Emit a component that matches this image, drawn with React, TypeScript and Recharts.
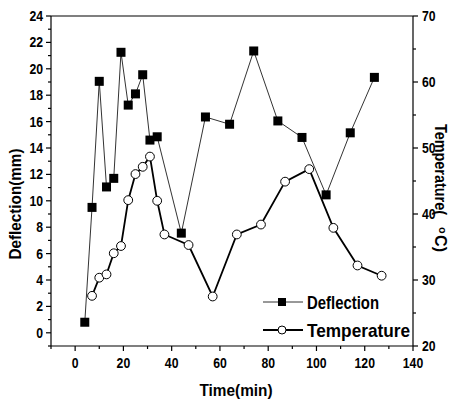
import React from 'react';
import { ComposedChart, Line, XAxis, YAxis, ReferenceLine, Legend } from 'recharts';

const deflectionTime = [4, 7, 10, 13, 16, 19, 22, 25, 28, 31, 34, 44, 54, 64, 74, 84, 94, 104, 114, 124];
const deflection = [0.8, 9.5, 19.05, 11.05, 11.7, 21.25, 17.25, 18.1, 19.55, 14.6, 14.85, 7.55, 16.35, 15.8, 21.35, 16.05, 14.8, 10.45, 15.15, 19.35];
const temperatureTime = [7, 10, 13, 16, 19, 22, 25, 28, 31, 34, 37, 47, 57, 67, 77, 87, 97, 107, 117, 127];
const temperature = [27.6, 30.35, 30.85, 34.05, 35.15, 42.1, 46.05, 47.15, 48.7, 42.0, 36.9, 35.3, 27.5, 36.9, 38.4, 44.9, 46.8, 37.9, 32.2, 30.65];

const xTicks = [-10, 0, 10, 20, 30, 40, 50, 60, 70, 80, 90, 100, 110, 120, 130, 140];
const leftTicks = [-1, 0, 1, 2, 3, 4, 5, 6, 7, 8, 9, 10, 11, 12, 13, 14, 15, 16, 17, 18, 19, 20, 21, 22, 23, 24];
const rightTicks = [20, 25, 30, 35, 40, 45, 50, 55, 60, 65, 70];

const deflectionData = deflectionTime.map((t, i) => ({ t, v: deflection[i] }));
const temperatureData = temperatureTime.map((t, i) => ({ t, v: temperature[i] }));

const FONT = '"Liberation Sans", Arial, sans-serif';
const DIGIT_W = 6.8;

const TickText = (p: any) => {
  const s = String(p.value);
  return (
    <text
      x={p.x}
      y={p.y}
      dy={p.dy}
      textAnchor={p.anchor}
      fontFamily={FONT}
      fontWeight="bold"
      fontSize={14}
      fill="#000"
      textLength={s.length * DIGIT_W}
      lengthAdjust="spacingAndGlyphs"
    >
      {s}
    </text>
  );
};

const XTick = (props: any) => {
  const { x, y, payload } = props;
  const major = payload.value % 20 === 0;
  return (
    <g>
      <line x1={x} x2={x} y1={y} y2={y + (major ? 5 : 3)} stroke="#000" strokeWidth={1.2} />
      {major && <TickText x={x} y={y + 22} anchor="middle" value={payload.value} />}
    </g>
  );
};

const LeftTick = (props: any) => {
  const { x, y, payload } = props;
  const major = payload.value % 2 === 0;
  return (
    <g>
      <line x1={x} x2={x - (major ? 5 : 3)} y1={y} y2={y} stroke="#000" strokeWidth={1.2} />
      {major && <TickText x={x - 8} y={y} dy="0.36em" anchor="end" value={payload.value} />}
    </g>
  );
};

const RightTick = (props: any) => {
  const { x, y, payload } = props;
  const major = payload.value % 10 === 0;
  return (
    <g>
      <line x1={x} x2={x + (major ? 5 : 3)} y1={y} y2={y} stroke="#000" strokeWidth={1.2} />
      {major && <TickText x={x + 9} y={y} dy="0.36em" anchor="start" value={payload.value} />}
    </g>
  );
};

const SquareDot = (props: any) => {
  const { cx, cy, index } = props;
  return <rect key={`sq-${index}`} x={cx - 4.5} y={cy - 4.5} width={9} height={9} fill="#000" />;
};

const CircleDot = (props: any) => {
  const { cx, cy, index } = props;
  return <circle key={`ci-${index}`} cx={cx} cy={cy} r={4.4} fill="#fff" stroke="#000" strokeWidth={1} />;
};

const legendStyles: Record<string, { marker: 'square' | 'circle'; stroke: string; width: number; textW: number }> = {
  Deflection: { marker: 'square', stroke: '#333', width: 1, textW: 72 },
  Temperature: { marker: 'circle', stroke: '#000', width: 2, textW: 103 },
};

const renderLegend = (props: any) => {
  const { payload } = props;
  const items = payload || [];
  return (
    <svg width={170} height={58} style={{ display: 'block', overflow: 'visible' }}>
      {items.map((entry: any, i: number) => {
        const s = legendStyles[entry.value] || legendStyles.Deflection;
        const cy = 14 + i * 28;
        return (
          <g key={entry.value}>
            <line x1={1} x2={41} y1={cy} y2={cy} stroke={s.stroke} strokeWidth={s.width} />
            {s.marker === 'square' ? (
              <rect x={16} y={cy - 4} width={8} height={8} fill="#000" />
            ) : (
              <circle cx={20} cy={cy} r={4} fill="#fff" stroke="#000" strokeWidth={1} />
            )}
            <text
              x={45}
              y={cy + 7}
              fontFamily={FONT}
              fontWeight="bold"
              fontSize={19}
              fill="#000"
              textLength={s.textW}
              lengthAdjust="spacingAndGlyphs"
            >
              {entry.value}
            </text>
          </g>
        );
      })}
    </svg>
  );
};

export default function App() {
  return (
    <div style={{ position: 'absolute', left: 0, top: 0, width: 451, height: 402, background: '#fff' }}>
      <ComposedChart width={451} height={402} margin={{ top: 16, right: 0, left: 0, bottom: 0 }}>
        <XAxis
          xAxisId="x"
          type="number"
          dataKey="t"
          domain={[-10, 140]}
          ticks={xTicks}
          interval={0}
          tickSize={0}
          tickMargin={0}
          tickLine={false}
          tick={<XTick />}
          height={56}
          stroke="#000"
          strokeWidth={1.2}
          allowDataOverflow
          label={{
            content: (p: any) => {
              const vb = p.viewBox || {};
              return (
                <text
                  x={vb.x + vb.width / 2 + 4}
                  y={396}
                  textAnchor="middle"
                  fontFamily={FONT}
                  fontWeight="bold"
                  fontSize={16}
                  fill="#000"
                  textLength={73}
                  lengthAdjust="spacingAndGlyphs"
                >
                  Time(min)
                </text>
              );
            },
          }}
        />
        <YAxis
          yAxisId="left"
          type="number"
          domain={[-1, 24]}
          ticks={leftTicks}
          interval={0}
          tickSize={0}
          tickMargin={0}
          tickLine={false}
          tick={<LeftTick />}
          width={51}
          stroke="#000"
          strokeWidth={1.2}
          allowDataOverflow
          label={{
            content: () => (
              <text
                x={21}
                y={204}
                transform="rotate(-90, 21, 204)"
                textAnchor="middle"
                fontFamily={FONT}
                fontWeight="bold"
                fontSize={16}
                fill="#000"
                textLength={111}
                lengthAdjust="spacingAndGlyphs"
              >
                Deflection(mm)
              </text>
            ),
          }}
        />
        <YAxis
          yAxisId="right"
          orientation="right"
          type="number"
          domain={[20, 70]}
          ticks={rightTicks}
          interval={0}
          tickSize={0}
          tickMargin={0}
          tickLine={false}
          tick={<RightTick />}
          width={38}
          stroke="#000"
          strokeWidth={1.2}
          allowDataOverflow
          label={{
            content: () => (
              <g transform="rotate(90, 435, 124)" fontFamily={FONT} fontWeight="bold" fill="#000">
                <text x={435} y={124} fontSize={16} textLength={91} lengthAdjust="spacingAndGlyphs">
                  Temperature(
                </text>
                <text x={538} y={120} fontSize={11}>
                  o
                </text>
                <text x={546} y={124} fontSize={16} textLength={17} lengthAdjust="spacingAndGlyphs">
                  C)
                </text>
              </g>
            ),
          }}
        />
        <ReferenceLine xAxisId="x" yAxisId="left" y={24} stroke="#000" strokeWidth={1.2} ifOverflow="extendDomain" />
        <Line
          xAxisId="x"
          yAxisId="left"
          name="Deflection"
          data={deflectionData}
          dataKey="v"
          stroke="#333"
          strokeWidth={1}
          dot={<SquareDot />}
          activeDot={false}
          isAnimationActive={false}
          legendType="square"
        />
        <Line
          xAxisId="x"
          yAxisId="right"
          name="Temperature"
          data={temperatureData}
          dataKey="v"
          stroke="#000"
          strokeWidth={1.8}
          dot={<CircleDot />}
          activeDot={false}
          isAnimationActive={false}
          legendType="circle"
        />
        <Legend
          layout="vertical"
          align="center"
          verticalAlign="middle"
          content={renderLegend}
          wrapperStyle={{ position: 'absolute', left: 262, top: 288, width: 170, height: 58 }}
        />
      </ComposedChart>
    </div>
  );
}
